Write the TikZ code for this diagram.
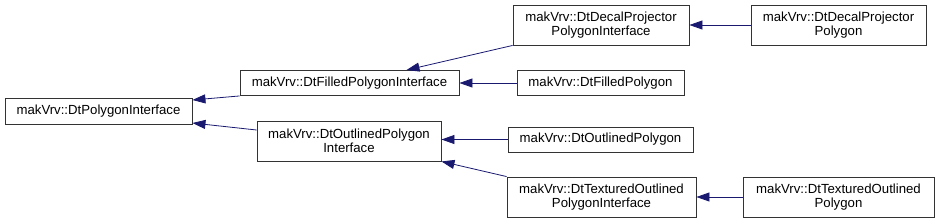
\documentclass[tikz,border=0pt]{standalone}
\usepackage{fontspec}
\setmainfont{Liberation Sans}
\usepackage{tikz}
\usetikzlibrary{arrows.meta, positioning, calc}
\definecolor{edgeblue}{HTML}{191970}
\definecolor{boxline}{HTML}{333333}

\begin{document}
\begin{tikzpicture}[
  x=1pt, y=-1pt,
  cls/.style={
    rectangle, draw=boxline, line width=0.9pt,
    inner sep=1pt, align=center,
    font=\fontsize{13.2}{14}\selectfont
  },
  one/.style={cls, minimum height=25pt},
  two/.style={cls, minimum height=40pt},
  inh/.style={-{Triangle[length=13pt, width=9pt]}, line width=0.8pt, color=edgeblue}
]
\useasboundingbox (0,0) rectangle (939,223);

% Nodes
\node[one, minimum width=187pt, minimum height=26pt] (pi) at (98.5,111) {makVrv::DtPolygonInterface};

\node[one, minimum width=219pt] (fpi) at (349.5,83) {makVrv::DtFilledPolygonInterface};
\node[two, minimum width=184pt] (opi) at (349,141) {makVrv::DtOutlinedPolygon\\Interface};

\node[two, minimum width=176pt] (dppi) at (601,25) {makVrv::DtDecalProjector\\PolygonInterface};
\node[one, minimum width=167pt] (fp) at (600.5,83) {makVrv::DtFilledPolygon};
\node[one, minimum width=185pt] (op) at (600.5,139.5) {makVrv::DtOutlinedPolygon};
\node[two, minimum width=189pt] (topi) at (601.5,197) {makVrv::DtTexturedOutlined\\PolygonInterface};

\node[two, minimum width=175pt] (dpp) at (838.5,25) {makVrv::DtDecalProjector\\Polygon};
\node[two, minimum width=191pt] (top) at (838.5,197) {makVrv::DtTexturedOutlined\\Polygon};

% Arrows
\draw[inh] (fpi.south west) -- ([yshift=11pt]pi.east);
\draw[inh] ([yshift=11pt]opi.west) -- ([yshift=-12pt]pi.east);

\draw[inh] (dppi.south west) -- ([xshift=57pt]fpi.north);
\draw[inh] (fp) -- (fpi);
\draw[inh] (op.west) -- (op.west -| opi.east);
\draw[inh] (topi.north west) -- (opi.south east);

\draw[inh] (dpp) -- (dppi);
\draw[inh] (top) -- (topi);

\end{tikzpicture}
\end{document}
